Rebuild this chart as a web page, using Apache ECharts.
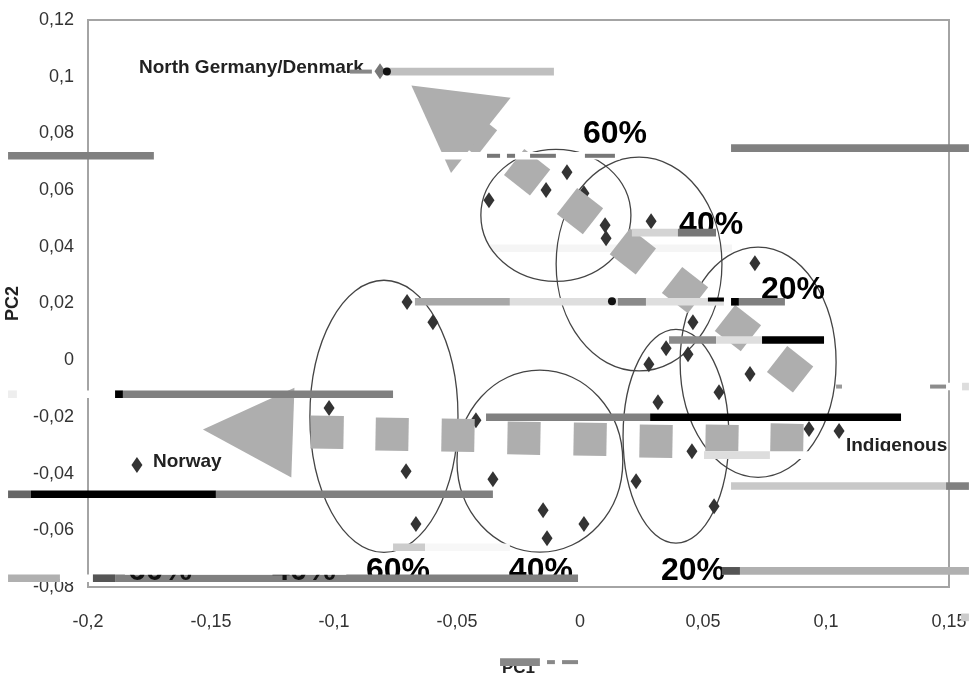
<!DOCTYPE html>
<html>
<head>
<meta charset="utf-8">
<style>html,body{margin:0;padding:0;background:#fff}#c{width:972px;height:682px}</style>
<script src="https://cdn.jsdelivr.net/npm/echarts@6/dist/echarts.min.js"></script>
</head>
<body>
<div id="c"></div>
<script>
const xTickLabels = ['-0,2','-0,15','-0,1','-0,05','0','0,05','0,1','0,15'];
const yTickLabels = ['-0,08','-0,06','-0,04','-0,02','0','0,02','0,04','0,06','0,08','0,1','0,12'];

// PC1, PC2 of the individual samples
const samplePoints = [
  [-0.0703,0.0205],[-0.0598,0.0134],[-0.0053,0.0663],[-0.0138,0.0600],
  [-0.0370,0.0564],[0.0016,0.0589],[0.0102,0.0476],[0.0106,0.0430],[0.0289,0.0490],
  [0.0711,0.0342],[0.0459,0.0134],[0.0350,0.0042],[0.0439,0.0021],
  [0.0280,-0.0014],[0.0691,-0.0049],[0.0565,-0.0113],[0.0317,-0.0148],[0.0931,-0.0243],
  [0.1053,-0.0250],[0.0455,-0.0321],[0.0228,-0.0427],[0.0545,-0.0515],[-0.0354,-0.0420],
  [-0.0150,-0.0529],[0.0016,-0.0578],[-0.0134,-0.0628],[-0.1020,-0.0169],[-0.0707,-0.0392],
  [-0.0667,-0.0578],[-0.0423,-0.0212],[-0.1801,-0.0370]
];
const overBandSamples = [[-0.0813,0.1019]];
const dotPoints = [[-0.0785,0.1018],[0.0130,0.0208]];

// admixture arrows
const lowerArrowSteps = [[-0.1028,-0.0254],[-0.0764,-0.0261],[-0.0496,-0.0265],[-0.0228,-0.0275],[0.0041,-0.0279],[0.0309,-0.0286],[0.0577,-0.0286],[0.0841,-0.0282]];
const upperArrowSteps = [[-0.0431,0.0801],[-0.0215,0.0663],[0,0.0526],[0.0215,0.0384],[0.0427,0.0247],[0.0642,0.0113],[0.0854,-0.0032]];
const lowerArrowHead = [[-0.135,-0.025]];
const upperArrowHead = [[-0.0504,0.0804]];

// centre x, centre y, radius x, radius y
const ellipses = [
  [-0.0098,0.0511,0.0305,0.0233],[0.024,0.0339,0.0337,0.0377],[0.0724,-0.0007,0.0317,0.0406],
  [-0.0797,-0.0198,0.0301,0.048],[-0.0163,-0.0356,0.0337,0.0321],[0.039,-0.0268,0.0215,0.0377]
];

const percentLabels = [[0.0142,0.0797,'60%'],[0.0533,0.0476,'40%'],[0.0866,0.0247,'20%'],[-0.074,-0.0743,'60%'],[-0.0159,-0.0743,'40%'],[0.0459,-0.0743,'20%']];
const buriedPercentLabels = [[-0.1707,-0.0743,'60%'],[-0.1122,-0.0743,'40%']];
const nameLabels = [[-0.1793,0.1033,'North Germany/Denmark'],[-0.1736,-0.036,'Norway'],[0.1081,-0.0303,'Indigenous']];

// scan-line damage in the picture: start x, end x, y, grey, thin flag
const faintBands = [[-0.0366,0.0618,0.0395,'#f5f5f5',0]];
const damageBands = [
  [-0.0785,-0.0106,0.1018,'#bfbfbf',0],[-0.0935,-0.0846,0.1018,'#888888',1],
  [-0.2325,-0.1732,0.0721,'#808080',0],[-0.1732,0.0163,0.0721,'#ffffff',0],
  [-0.0378,-0.0325,0.0721,'#777777',1],[-0.0297,-0.0264,0.0721,'#777777',1],[-0.0203,-0.0098,0.0721,'#777777',1],[0.002,0.0142,0.0721,'#777777',1],
  [0.0614,0.1581,0.0748,'#808080',0],
  [0.0211,0.0398,0.045,'#d4d4d4',0],[0.0398,0.0553,0.045,'#777777',0],
  [-0.0671,-0.0285,0.0206,'#a8a8a8',0],[-0.0285,0.052,0.0206,'#dedede',0],[0.0154,0.0268,0.0206,'#8a8a8a',0],
  [0.052,0.0585,0.0206,'#dedede',0],[0.052,0.0585,0.0214,'#000000',1],[0.0614,0.0646,0.0206,'#000000',0],[0.0646,0.0833,0.0206,'#808080',0],
  [0.0362,0.0553,0.0071,'#8c8c8c',0],[0.0553,0.074,0.0071,'#dedede',0],[0.074,0.0992,0.0071,'#000000',0],
  [0.1041,0.1581,-0.0093,'#ffffff',0],[0.1423,0.1488,-0.0093,'#8c8c8c',1],[0.1553,0.1581,-0.0093,'#dddddd',0],[0.1041,0.1065,-0.0093,'#999999',1],
  [-0.2325,-0.2289,-0.012,'#eeeeee',0],[-0.2289,-0.189,-0.012,'#ffffff',0],[-0.189,-0.1858,-0.012,'#000000',0],[-0.1858,-0.076,-0.012,'#808080',0],
  [-0.0382,0.0285,-0.0201,'#808080',0],[0.0285,0.1305,-0.0201,'#000000',0],
  [0.0504,0.0959,-0.0335,'#ffffff',0],[0.0504,0.0772,-0.0335,'#dddddd',0],[0.1081,0.1480,-0.0335,'#ffffff',0],
  [0.0614,0.1488,-0.0444,'#c8c8c8',0],[0.1488,0.1581,-0.0444,'#808080',0],
  [-0.2325,-0.2232,-0.0473,'#666666',0],[-0.2232,-0.148,-0.0473,'#000000',0],[-0.148,-0.0354,-0.0473,'#808080',0],
  [-0.076,-0.063,-0.066,'#cccccc',0],[-0.063,-0.0285,-0.066,'#f7f7f7',0],
  [0.0577,0.1581,-0.0743,'#b0b0b0',0],[0.0577,0.065,-0.0743,'#555555',0],
  [-0.2325,-0.2114,-0.0769,'#b0b0b0',0],[-0.2114,-0.198,-0.0769,'#ffffff',0],[-0.198,-0.189,-0.0769,'#555555',0],[-0.189,-0.0008,-0.0769,'#808080',0],
  [-0.0325,-0.0163,-0.1065,'#888888',0],[-0.0134,-0.0102,-0.1065,'#888888',1],[-0.0073,-0.0008,-0.1065,'#888888',1],
  [0.1549,0.1581,-0.0907,'#cccccc',0]
];
// white patches that hide the upper part of the two buried labels
const damageCovers = [[-0.185,-0.095,-0.0743,'#ffffff'],[-0.185,-0.095,-0.0719,'#ffffff'],[-0.185,-0.095,-0.0695,'#ffffff']];

const FONT = '"Liberation Sans", Arial, sans-serif';

function textSeries(rows, size, align, color, z) {
  return {
    type: 'custom', coordinateSystem: 'cartesian2d', silent: true, z: z,
    data: rows.map(r => [r[0], r[1]]),
    renderItem: (p, api) => {
      const r = rows[p.dataIndex], c = api.coord([r[0], r[1]]);
      return { type: 'text', x: c[0], y: c[1], style: { text: r[2], fill: color, font: 'bold ' + size + 'px ' + FONT, align: align, verticalAlign: 'middle' } };
    }
  };
}
function bandSeries(rows, z) {
  return {
    type: 'custom', coordinateSystem: 'cartesian2d', silent: true, z: z,
    data: rows.map(r => [r[0], r[2]]),
    renderItem: (p, api) => {
      const r = rows[p.dataIndex], a = api.coord([r[0], r[2]]), b = api.coord([r[1], r[2]]), h = r[4] ? 4 : 7.6;
      return { type: 'rect', shape: { x: a[0], y: a[1] - h / 2, width: b[0] - a[0], height: h }, style: { fill: r[3] } };
    }
  };
}
function marks(rows, symbol, size, rotate, color, z) {
  return { type: 'scatter', silent: true, z: z, symbol: symbol, symbolSize: size, symbolRotate: rotate, itemStyle: { color: color, opacity: 1 }, data: rows };
}

const chart = echarts.init(document.getElementById('c'), null, { renderer: 'canvas' });
chart.setOption({
  animation: false,
  backgroundColor: '#ffffff',
  grid: { left: 88, right: 23, top: 20, bottom: 95, outerBoundsMode: 'none', show: true, borderColor: '#a4a4a4', borderWidth: 2, backgroundColor: '#ffffff' },
  xAxis: {
    type: 'value', min: -0.2, max: 0.15, interval: 0.05,
    name: 'PC1', nameLocation: 'middle', nameGap: 73,
    nameTextStyle: { fontFamily: FONT, fontWeight: 'bold', fontSize: 17, color: '#222' },
    axisLine: { show: false }, axisTick: { show: false }, splitLine: { show: false },
    axisLabel: { margin: 26, fontFamily: FONT, fontSize: 18, color: '#333',
      formatter: v => xTickLabels[Math.round((v + 0.2) / 0.05)] }
  },
  yAxis: {
    type: 'value', min: -0.08, max: 0.12, interval: 0.02,
    name: 'PC2', nameLocation: 'middle', nameGap: 66, nameRotate: 90,
    nameTextStyle: { fontFamily: FONT, fontWeight: 'bold', fontSize: 18, color: '#222' },
    axisLine: { show: false }, axisTick: { show: false }, splitLine: { show: false },
    axisLabel: { margin: 14, fontFamily: FONT, fontSize: 18, color: '#333',
      formatter: v => yTickLabels[Math.round((v + 0.08) / 0.02)] }
  },
  series: [
    bandSeries(faintBands, 1),
    {
      type: 'custom', coordinateSystem: 'cartesian2d', silent: true, z: 2,
      data: ellipses.map(e => [e[0], e[1]]),
      renderItem: (p, api) => {
        const e = ellipses[p.dataIndex], c = api.coord([e[0], e[1]]), s = api.size([e[2], e[3]]);
        return { type: 'ellipse', shape: { cx: c[0], cy: c[1], rx: s[0], ry: s[1] }, style: { fill: null, stroke: '#444444', lineWidth: 1.3 } };
      }
    },
    marks(samplePoints, 'diamond', [11, 16], 0, '#333333', 3),
    marks(lowerArrowSteps, 'rect', 33, -1, '#aeaeae', 4),
    marks(upperArrowSteps, 'rect', 33, -38, '#aeaeae', 4),
    marks(lowerArrowHead, 'triangle', [90, 90], 88, '#aeaeae', 4),
    marks(upperArrowHead, 'triangle', [100, 82], 173, '#aeaeae', 4),
    textSeries(percentLabels, 32, 'center', '#000000', 5),
    textSeries(nameLabels, 19, 'left', '#222222', 5),
    bandSeries(damageBands, 6),
    textSeries(buriedPercentLabels, 32, 'center', '#111111', 7),
    bandSeries(damageCovers, 8),
    marks(overBandSamples, 'diamond', [11, 16], 0, '#777777', 9),
    marks(dotPoints, 'circle', 8, 0, '#111111', 9)
  ]
});
</script>
</body>
</html>
